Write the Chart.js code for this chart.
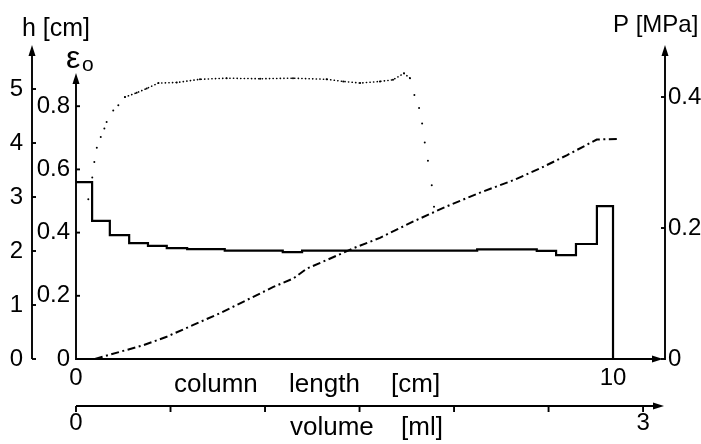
<!DOCTYPE html>
<html><head><meta charset="utf-8">
<script src="https://cdn.jsdelivr.net/npm/chart.js@4.4.0/dist/chart.umd.min.js"></script>
<style>html,body{margin:0;padding:0;background:#fff}canvas{display:block}</style>
</head><body>
<canvas id="c" width="701" height="444"></canvas>
<script>
// Porosity profile eps_0 (stepped) along the column length [cm]; each value holds until the next start
const stepStart = [0, 0.30, 0.63, 0.99, 1.34, 1.69, 2.07, 2.77, 3.85, 4.21, 7.47, 8.58, 8.94, 9.31, 9.70, 10];
const porosity  = [0.56, 0.437, 0.392, 0.367, 0.358, 0.351, 0.348, 0.343, 0.338, 0.343, 0.347, 0.342, 0.329, 0.364, 0.484, 0];

// Height h [cm] vs volume [ml] (dotted curve)
const volumeH = [0.065, 0.086, 0.097, 0.110, 0.131, 0.150, 0.162, 0.197, 0.224, 0.259, 0.321, 0.374, 0.436, 0.533, 0.656, 0.797, 0.974, 1.148, 1.326, 1.414, 1.503, 1.608, 1.677, 1.735, 1.767, 1.790, 1.815, 1.831, 1.845, 1.862, 1.882, 1.894];
const heightH = [2.96, 3.36, 3.65, 3.91, 4.11, 4.27, 4.39, 4.60, 4.70, 4.85, 4.93, 5.01, 5.11, 5.12, 5.18, 5.20, 5.19, 5.20, 5.18, 5.14, 5.11, 5.14, 5.17, 5.29, 5.20, 4.89, 4.65, 4.36, 4.01, 3.67, 3.22, 2.82];

// Pressure P [MPa] vs volume [ml] (dash-dot curve)
const volumeP  = [0.10, 0.233, 0.356, 0.480, 0.621, 0.762, 0.903, 1.044, 1.150, 1.221, 1.326, 1.467, 1.608, 1.785, 1.961, 2.138, 2.314, 2.455, 2.596, 2.755, 2.861];
const pressure = [0.000, 0.011, 0.021, 0.034, 0.052, 0.070, 0.090, 0.110, 0.123, 0.138, 0.151, 0.169, 0.185, 0.210, 0.233, 0.254, 0.273, 0.291, 0.311, 0.335, 0.336];

// Tick values / labels
const hTicks = [0, 1, 2, 3, 4, 5];
const epsTicks = [0, 0.2, 0.4, 0.6, 0.8];
const pTicks = [0, 0.2, 0.4];
const lengthTicks = [0, 10];
const volumeTicks = [0, 0.5, 1, 1.5, 2, 2.5, 3];
const volumeLabelled = [0, 3];

const tickFont = {family: '"Liberation Sans Narrow", "Liberation Sans", Arial, sans-serif', size: 24};
const textFont = '"Liberation Sans", Arial, sans-serif';
const setTicks = arr => s => { s.ticks = arr.map(v => ({value: v})); };

const axesPlugin = {
  id: 'axesDraw',
  afterDatasetsDraw(chart) {
    const ctx = chart.ctx, ca = chart.chartArea, sc = chart.scales;
    ctx.save();
    ctx.strokeStyle = '#000'; ctx.fillStyle = '#000';
    ctx.lineWidth = 1.9; ctx.lineCap = 'butt';
    const line = (x1, y1, x2, y2) => { ctx.beginPath(); ctx.moveTo(x1, y1); ctx.lineTo(x2, y2); ctx.stroke(); };
    const arrowUp = (x, tip) => { ctx.beginPath(); ctx.moveTo(x, tip); ctx.lineTo(x - 3.5, tip + 11); ctx.lineTo(x + 3.5, tip + 11); ctx.closePath(); ctx.fill(); };
    const arrowRight = (tip, y) => { ctx.beginPath(); ctx.moveTo(tip, y); ctx.lineTo(tip - 11, y - 3.5); ctx.lineTo(tip - 11, y + 3.5); ctx.closePath(); ctx.fill(); };

    // h axis (outer left)
    const hx = sc.yH.right, y0 = sc.yH.getPixelForValue(0);
    line(hx, y0, hx, ca.top + 6); arrowUp(hx, ca.top);
    hTicks.forEach(v => { const y = sc.yH.getPixelForValue(v); line(hx, y, hx + 4, y); });
    // eps axis
    const ex = sc.yE.right, eTip = sc.yE.getPixelForValue(0.905);
    line(ex, y0 + 1, ex, eTip + 6); arrowUp(ex, eTip);
    epsTicks.forEach(v => { const y = sc.yE.getPixelForValue(v); line(ex, y, ex + 4, y); });
    // P axis (right)
    const px = sc.yP.left;
    line(px, y0 + 1, px, ca.top + 6); arrowUp(px, ca.top);
    pTicks.forEach(v => { const y = sc.yP.getPixelForValue(v); line(px - 4, y, px, y); });
    // column length axis
    const cy = sc.x.top, cTip = ca.right - 2;
    line(ca.left, cy, cTip - 6, cy); arrowRight(cTip, cy);
    // volume axis
    const vy = sc.xV.top, vTip = ca.right - 1;
    line(ca.left, vy, vTip - 6, vy); arrowRight(vTip, vy);
    volumeTicks.forEach(v => { const x = sc.xV.getPixelForValue(v); line(x, vy, x, vy + 6); });

    // Titles
    ctx.textBaseline = 'alphabetic'; ctx.textAlign = 'left';
    ctx.font = '25px ' + textFont;
    ctx.fillText('h [cm]', 22, 36);
    ctx.font = '24px ' + textFont;
    ctx.fillText('P [MPa]', 613, 32);
    ctx.font = '26px ' + textFont;
    try { ctx.wordSpacing = '24px'; } catch (e) {}
    ctx.fillText('column length [cm]', 174, 392);
    try { ctx.wordSpacing = '20px'; } catch (e) {}
    ctx.fillText('volume [ml]', 290, 435);
    try { ctx.wordSpacing = '0px'; } catch (e) {}
    ctx.font = '32px ' + textFont;
    ctx.fillText('ε', 66, 68);
    ctx.font = '21px ' + textFont;
    ctx.fillText('o', 82, 71);
    ctx.restore();
  }
};

new Chart(document.getElementById('c'), {
  type: 'line',
  data: {
    datasets: [
      {
        label: 'ε0',
        data: stepStart.map((x, i) => ({x, y: porosity[i]})),
        xAxisID: 'x', yAxisID: 'yE',
        stepped: 'before',
        borderColor: '#000', borderWidth: 2.2, pointRadius: 0, fill: false
      },
      {
        label: 'h',
        data: volumeH.map((x, i) => ({x, y: heightH[i]})),
        xAxisID: 'xV', yAxisID: 'yH',
        borderColor: '#000', borderWidth: 1.6, borderDash: [0.2, 3.4], borderCapStyle: 'round',
        pointRadius: 1, pointBorderWidth: 0, pointBackgroundColor: '#000',
        segment: {
          borderColor: c => Math.abs(c.p1.y - c.p0.y) > Math.abs(c.p1.x - c.p0.x) ? 'rgba(0,0,0,0)' : '#000'
        },
        fill: false, tension: 0
      },
      {
        label: 'P',
        data: volumeP.map((x, i) => ({x, y: pressure[i]})),
        xAxisID: 'xV', yAxisID: 'yP',
        borderColor: '#000', borderWidth: 2, borderDash: [8, 3.5, 2, 3.5],
        pointRadius: 0, fill: false, tension: 0
      }
    ]
  },
  options: {
    responsive: false, animation: false, devicePixelRatio: 1, events: [],
    layout: {padding: {top: 45, left: 0, right: 0, bottom: 0}},
    plugins: {legend: {display: false}, tooltip: {enabled: false}},
    scales: {
      x: {
        type: 'linear', position: 'bottom', weight: 0, min: 0, max: 10.968,
        afterFit: s => { s.height = 47; }, afterBuildTicks: setTicks(lengthTicks),
        grid: {display: false, drawTicks: false}, border: {display: false},
        ticks: {padding: 5, font: tickFont, color: '#000', maxRotation: 0, autoSkip: false}
      },
      xV: {
        type: 'linear', position: 'bottom', weight: 1, min: 0, max: 3.116,
        afterFit: s => { s.height = 38; }, afterBuildTicks: setTicks(volumeTicks),
        grid: {display: false, drawTicks: false}, border: {display: false},
        ticks: {padding: 3, font: tickFont, color: '#000', maxRotation: 0, autoSkip: false,
          callback: v => volumeLabelled.includes(v) ? String(v) : ''}
      },
      yE: {
        type: 'linear', position: 'left', weight: 0, min: 0, max: 0.9937,
        afterFit: s => { s.width = 44; }, afterBuildTicks: setTicks(epsTicks),
        grid: {display: false, drawTicks: false}, border: {display: false},
        ticks: {padding: 6, font: tickFont, color: '#000', autoSkip: false}
      },
      yH: {
        type: 'linear', position: 'left', weight: 1, min: 0, max: 5.815,
        afterFit: s => { s.width = 32; }, afterBuildTicks: setTicks(hTicks),
        grid: {display: false, drawTicks: false}, border: {display: false},
        ticks: {padding: 9, font: tickFont, color: '#000', autoSkip: false}
      },
      yP: {
        type: 'linear', position: 'right', weight: 0, min: 0, max: 0.4794,
        afterFit: s => { s.width = 36; }, afterBuildTicks: setTicks(pTicks),
        grid: {display: false, drawTicks: false}, border: {display: false},
        ticks: {padding: 3, font: tickFont, color: '#000', autoSkip: false}
      }
    }
  },
  plugins: [axesPlugin]
});
</script>
</body></html>
